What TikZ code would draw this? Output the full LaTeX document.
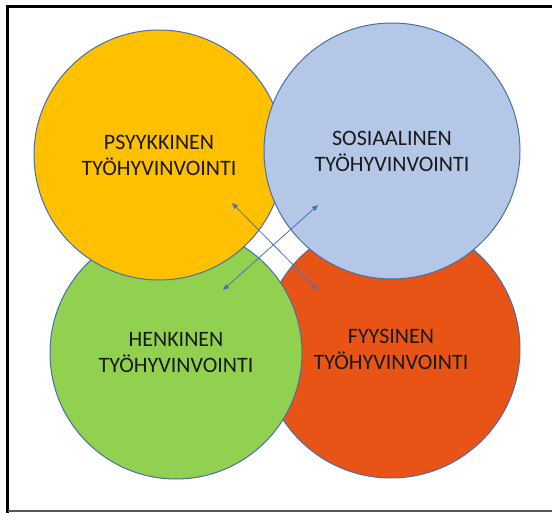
\documentclass[tikz,border=0pt]{standalone}
\usepackage{fontspec}
\setmainfont{Carlito}
\usetikzlibrary{arrows.meta}
\definecolor{keltainen}{HTML}{FFC000}
\definecolor{sininen}{HTML}{B4C7E7}
\definecolor{vihrea}{HTML}{92D050}
\definecolor{oranssi}{HTML}{E85416}
\definecolor{reuna}{HTML}{4A6FA5}
\definecolor{nuolensin}{HTML}{4472C4}
\begin{document}
\begin{tikzpicture}[x=1pt,y=-1pt,
        alue/.style={circle,draw=reuna,line width=1pt,inner sep=0pt,align=center,
          font=\fontsize{22}{26}\selectfont,text=black!90},
        nuoli/.style={{Triangle[length=6pt,width=5pt]}-{Triangle[length=6pt,width=5pt]},
          draw=nuolensin,line width=0.8pt}]
    \useasboundingbox (0,0) rectangle (552,513);
    \draw[line width=3pt] (552,7) -- (7,7) -- (7,513);
    \draw[black!65,line width=1.5pt] (8,511) -- (552,511);
    \node[alue,fill=oranssi,minimum size=258pt] (fyys) at (391,349) {FYYSINEN\\TYÖHYVINVOINTI};
    \node[alue,fill=vihrea,minimum size=252pt] (henk) at (176,353) {HENKINEN\\TYÖHYVINVOINTI};
    \node[alue,fill=keltainen,minimum size=250pt] (psyk) at (159,155) {PSYYKKINEN\\TYÖHYVINVOINTI};
    \node[alue,fill=sininen,minimum size=256pt] (sos) at (392,151) {SOSIAALINEN\\TYÖHYVINVOINTI};
    \coordinate (p1) at (232,203);
    \coordinate (p2) at (318,290);
    \coordinate (s1) at (318,205);
    \coordinate (s2) at (223,290);
    \draw[nuoli] (p1) -- (p2);
    \draw[nuoli] (s1) -- (s2);
\end{tikzpicture}
\end{document}
